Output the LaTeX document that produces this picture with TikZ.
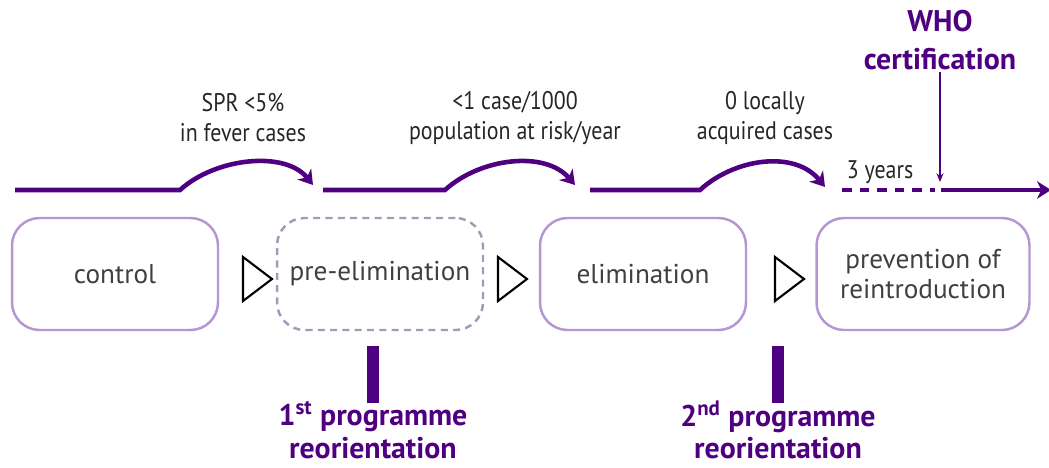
\documentclass[tikz,border=0pt]{standalone}
\usepackage{fontspec}
\setmainfont{PT Sans}
\newfontfamily\condfont[FakeStretch=0.86]{PT Sans}
\usetikzlibrary{arrows.meta, positioning, calc}
\definecolor{trackpurple}{RGB}{78, 0, 128}
\definecolor{boxpurple}{RGB}{180, 150, 210}
\definecolor{dashgrey}{RGB}{168, 152, 184}
\definecolor{textgrey}{RGB}{64, 64, 64}

\tikzset{
    stagebox/.style={draw=boxpurple, line width=1.4pt, rounded corners=0.55cm,
        minimum width=4.12cm, minimum height=2.24cm, text=textgrey,
        font=\fontsize{15.5}{17}\selectfont, align=center},
    track/.style={draw=trackpurple, line width=2.6pt},
    goes/.style={track, -{Stealth[length=8pt, width=10pt, inset=2.5pt]}},
    condlabel/.style={font=\condfont\fontsize{14.5}{17}\selectfont, text=black!85, align=center},
    boldlabel/.style={font=\bfseries\fontsize{17}{18.5}\selectfont, text=trackpurple, align=center, inner sep=1pt},
    pointer/.style={draw=black, line width=1.2pt, line join=miter},
    bar/.style={draw=trackpurple, line width=6.8pt}
}

\begin{document}
\begin{tikzpicture}[x=0.02cm, y=-0.02cm]
    \useasboundingbox (0,0) rectangle (1049,467);

    % Stages
    \node[stagebox] (control) at (115,274) {control};
    \node[stagebox, draw=dashgrey, dash pattern=on 4pt off 3pt] (preelim) at (380,274) {pre-elimination};
    \node[stagebox] (elim) at (643,274) {elimination};
    \node[stagebox, minimum width=4.26cm] (prevent) at (923,274) {prevention of\\reintroduction};

    % Open triangles between stages
    \foreach \tx in {257,512,789} {
        \draw[pointer] (\tx-14,257) -- (\tx+15,279) -- (\tx-14,301) -- cycle;
    }

    % Thresholds above the track
    \node[condlabel] (spr) at (243,118) {SPR <5\%\\in fever cases};
    \node[condlabel] (caselim) at (515,118) {<1 case/1000\\population at risk/year};
    \node[condlabel] (zerolocal) at (765,118) {0 locally\\acquired cases};
    \node[condlabel] (years) at (880,172) {3 years};
    \node[boldlabel, font=\bfseries\fontsize{17}{21.5}\selectfont] (who) at (940,40) {WHO\\certification};

    % Track
    \coordinate (t0) at (15,190);
    \coordinate (t1) at (180,190);
    \coordinate (a1) at (313,185);
    \coordinate (t2) at (323,190);
    \coordinate (t3) at (445,190);
    \coordinate (a2) at (575,185);
    \coordinate (t4) at (590,190);
    \coordinate (t5) at (700,190);
    \coordinate (a3) at (825,187);
    \coordinate (d0) at (842,190);
    \coordinate (d1) at (935,190);
    \coordinate (s0) at (941,190);
    \coordinate (s1) at (1051,190);

    \draw[goes] (t0) -- (t1) .. controls (215,158) and (285,150) .. (a1);
    \draw[goes] (t2) -- (t3) .. controls (480,158) and (545,150) .. (a2);
    \draw[goes] (t4) -- (t5) .. controls (735,158) and (795,150) .. (a3);
    \draw[track, dash pattern=on 5.5pt off 4.5pt] (d0) -- (d1);
    \draw[goes] (s0) -- (s1);

    % Certification pointer
    \draw[draw=trackpurple, line width=1.1pt, -{Stealth[length=5pt, width=4pt]}] (who.south) -- (940,182);

    % Programme reorientations
    \node[boldlabel] (reorient1) at (373,430) {1\textsuperscript{st} programme\\reorientation};
    \node[boldlabel] (reorient2) at (778,430) {2\textsuperscript{nd} programme\\reorientation};
    \draw[bar] (reorient1.north) ++(0,4) -- ++(0,-57);
    \draw[bar] (reorient2.north) ++(0,4) -- ++(0,-57);
\end{tikzpicture}
\end{document}
